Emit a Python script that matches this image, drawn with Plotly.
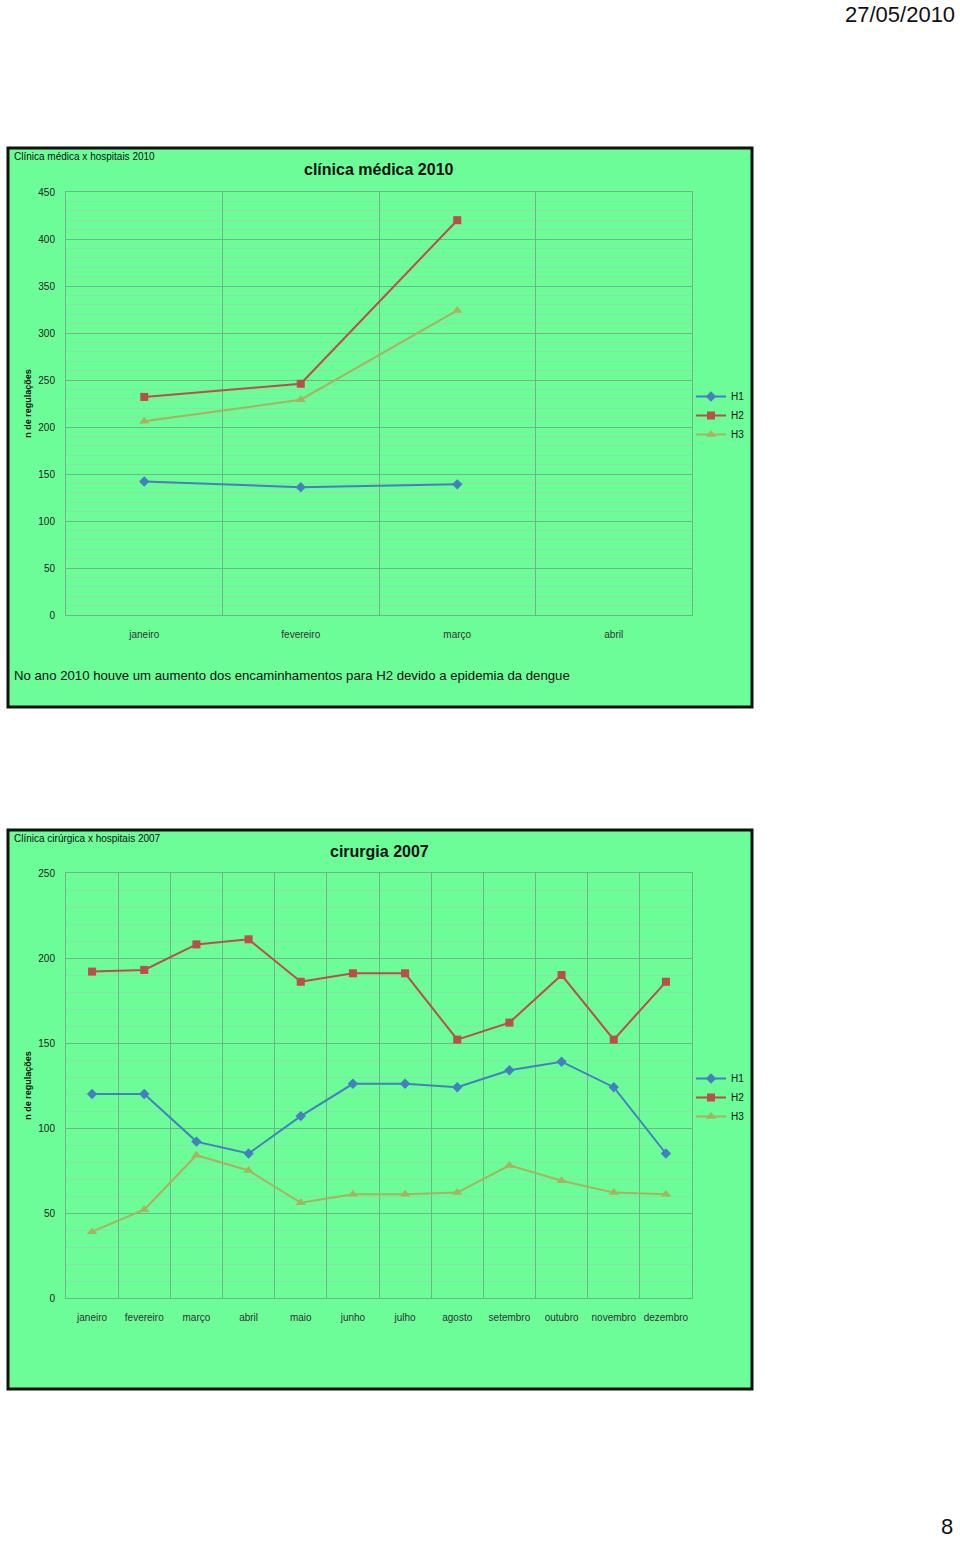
import plotly.graph_objects as go

# ---------------- data ----------------
months_2010 = ["janeiro", "fevereiro", "março", "abril"]
h1_2010 = [142, 136, 139, None]
h2_2010 = [232, 246, 420, None]
h3_2010 = [206, 229, 324, None]

months_2007 = ["janeiro", "fevereiro", "março", "abril", "maio", "junho",
               "julho", "agosto", "setembro", "outubro", "novembro", "dezembro"]
h1_2007 = [120, 120, 92, 85, 107, 126, 126, 124, 134, 139, 124, 85]
h2_2007 = [192, 193, 208, 211, 186, 191, 191, 152, 162, 190, 152, 186]
h3_2007 = [39, 52, 84, 75, 56, 61, 61, 62, 78, 69, 62, 61]

series_names = ["H1", "H2", "H3"]

# ---------------- style ----------------
W, H = 960, 1541
BG = "#6CFC98"
GRID_MAJOR = "#70B488"
GRID_MINOR = "#8AE2A6"
COLORS = ["#4480C0", "#B94E4A", "#AAB25E"]
SYMBOLS = ["diamond", "square", "triangle-up"]
SIZES = [8, 8, 9]
FONT = "Liberation Sans, Arial, sans-serif"


def px(x):
    return x / W


def py(y):
    return 1 - y / H


fig = go.Figure()

panels = [
    dict(cats=months_2010, data=[h1_2010, h2_2010, h3_2010], xa="x", ya="y",
         legend="legend"),
    dict(cats=months_2007, data=[h1_2007, h2_2007, h3_2007], xa="x2", ya="y2",
         legend="legend2"),
]

for p in panels:
    for name, vals, c, s, sz in zip(series_names, p["data"], COLORS, SYMBOLS, SIZES):
        fig.add_trace(go.Scatter(
            x=p["cats"], y=vals, name=name, mode="lines+markers",
            xaxis=p["xa"], yaxis=p["ya"], legend=p["legend"],
            line=dict(color=c, width=2),
            marker=dict(symbol=s, size=sz, color=c),
            connectgaps=False,
        ))

# chart frames
for (y0, y1) in [(148, 707), (830, 1389)]:
    fig.add_shape(type="rect", xref="paper", yref="paper",
                  x0=px(8), x1=px(752), y0=py(y1), y1=py(y0),
                  fillcolor=BG, line=dict(color="#111111", width=3), layer="below")

axis_common = dict(showline=True, linecolor=GRID_MAJOR, linewidth=1, mirror=True,
                   zeroline=False, automargin=False)


def xaxis(domain_anchor, n):
    return dict(domain=[px(66), px(692)], anchor=domain_anchor, type="category",
                range=[-0.5, n - 0.5], tickson="boundaries", showgrid=True,
                gridcolor=GRID_MAJOR, ticks="", ticklabelstandoff=10, tickangle=0,
                tickfont=dict(size=10, color="#333333"), **axis_common)


def yaxis(domain, anchor, ymax):
    return dict(domain=domain, anchor=anchor, range=[0, ymax], dtick=50,
                showgrid=True, gridcolor=GRID_MAJOR, ticks="",
                minor=dict(dtick=10, showgrid=True, gridcolor=GRID_MINOR),
                tickfont=dict(size=10, color="#222222"), ticklabelstandoff=8,
                title=dict(text="<b>n de regulações</b>",
                           font=dict(size=9, color="#111111"), standoff=5),
                **axis_common)


fig.update_layout(
    width=W, height=H,
    margin=dict(l=0, r=0, t=0, b=0, autoexpand=False),
    paper_bgcolor="white", plot_bgcolor=BG,
    font=dict(family=FONT, color="#222222", size=10),
    xaxis=xaxis("y", len(months_2010)),
    yaxis=yaxis([py(615), py(192)], "x", 450),
    xaxis2=xaxis("y2", len(months_2007)),
    yaxis2=yaxis([py(1298), py(873)], "x2", 250),
    legend=dict(x=px(691), y=py(382), xanchor="left", yanchor="top",
                bgcolor="rgba(0,0,0,0)", font=dict(size=10, color="#111111"),
                tracegroupgap=0),
    legend2=dict(x=px(691), y=py(1064), xanchor="left", yanchor="top",
                 bgcolor="rgba(0,0,0,0)", font=dict(size=10, color="#111111"),
                 tracegroupgap=0),
    showlegend=True,
)

annotations = [
    dict(text="Clínica médica x hospitais 2010", x=px(12), y=py(156), size=10,
         xanchor="left", yanchor="middle"),
    dict(text="<b>clínica médica 2010</b>", x=px(379), y=py(169), size=16,
         xanchor="center", yanchor="middle"),
    dict(text="No ano 2010 houve um aumento dos encaminhamentos para H2 devido a epidemia da dengue",
         x=px(12), y=py(675), size=13.2, xanchor="left", yanchor="middle"),
    dict(text="Clínica cirúrgica x hospitais 2007", x=px(12), y=py(838), size=10,
         xanchor="left", yanchor="middle"),
    dict(text="<b>cirurgia 2007</b>", x=px(379), y=py(851), size=16,
         xanchor="center", yanchor="middle"),
    dict(text="27/05/2010", x=px(957), y=py(0), size=22, xanchor="right", yanchor="top"),
    dict(text="8", x=px(955), y=py(1541), size=22, xanchor="right", yanchor="bottom"),
]
for a in annotations:
    fig.add_annotation(text=a["text"], x=a["x"], y=a["y"], xref="paper", yref="paper",
                       xanchor=a["xanchor"], yanchor=a["yanchor"], showarrow=False,
                       font=dict(size=a["size"], color="#111111", family=FONT))

fig.write_html("out.html")
